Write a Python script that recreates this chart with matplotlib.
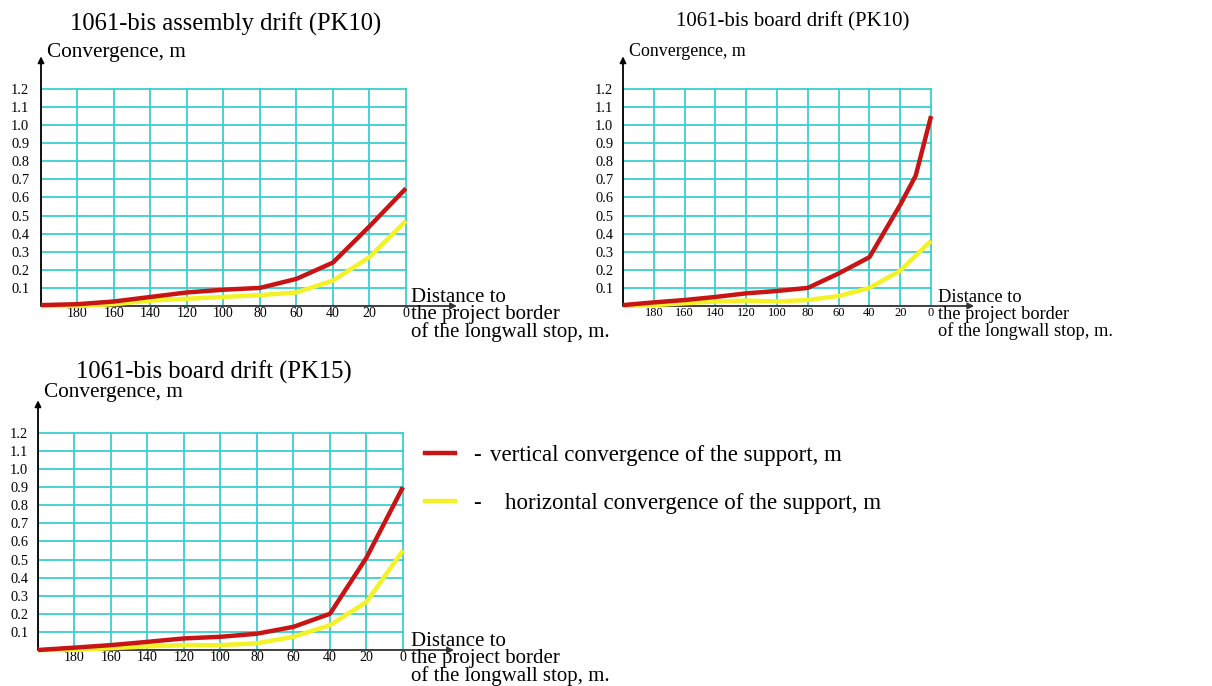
import matplotlib.pyplot as plt
import matplotlib as mpl
from matplotlib.lines import Line2D

mpl.rcParams['font.family'] = ['Liberation Serif', 'DejaVu Serif']

W, H = 1212, 686

# distance to the project border, m
dist = [200, 180, 160, 140, 120, 100, 80, 60, 40, 20, 0]
dist_pk10b = [200, 180, 160, 140, 120, 100, 80, 60, 40, 20, 10, 0]

# 1061-bis assembly drift (PK10)
asm_vert = [0.005, 0.01, 0.025, 0.05, 0.075, 0.09, 0.10, 0.15, 0.24, 0.44, 0.65]
asm_horiz = [0.0, 0.0, 0.01, 0.03, 0.04, 0.05, 0.06, 0.075, 0.14, 0.27, 0.47]
# 1061-bis board drift (PK10)
pk10_vert = [0.005, 0.02, 0.033, 0.05, 0.07, 0.083, 0.10, 0.18, 0.27, 0.56, 0.72, 1.05]
pk10_horiz = [0.0, 0.005, 0.015, 0.025, 0.03, 0.025, 0.033, 0.055, 0.10, 0.195, 0.36]
# 1061-bis board drift (PK15)
pk15_vert = [0.0, 0.013, 0.027, 0.045, 0.064, 0.073, 0.09, 0.128, 0.20, 0.51, 0.90]
pk15_horiz = [0.0, 0.0, 0.01, 0.02, 0.027, 0.027, 0.037, 0.073, 0.137, 0.265, 0.55]

titles = ['1061-bis assembly drift (PK10)', '1061-bis board drift (PK10)',
          '1061-bis board drift (PK15)']
x_ticks = [200, 180, 160, 140, 120, 100, 80, 60, 40, 20, 0]
x_labels = ['', '180', '160', '140', '120', '100', '80', '60', '40', '20', '0']
y_ticks = [0.0, 0.1, 0.2, 0.3, 0.4, 0.5, 0.6, 0.7, 0.8, 0.9, 1.0, 1.1, 1.2]
y_labels = [''] + ['%.1f' % v for v in y_ticks[1:]]
dist_lines = ['Distance to', 'the project border', 'of the longwall stop, m.']

RED = '#c81414'
YEL = '#f2f227'
CYAN = '#3ccfd0'


def px(x, y):
    return x / W, 1 - y / H


def panel(fig, box, xv, vert, xh, horiz, title, tpos, tsize, cpos, csize, dpos, dsize,
          dstep, xt_size, yt_pad):
    l, t, r, b = box
    ax = fig.add_axes([l / W, 1 - b / H, (r - l) / W, (b - t) / H])
    for s in ax.spines.values():
        s.set_visible(False)
    ax.set_xlim(200, -0.6)
    ax.set_ylim(0, 1.205)
    ax.set_xticks(x_ticks)
    ax.set_xticklabels(x_labels)
    ax.set_yticks(y_ticks)
    ax.set_yticklabels(y_labels)
    ax.tick_params(axis='x', length=0, pad=0.5, labelsize=xt_size)
    ax.tick_params(axis='y', length=0, pad=yt_pad, labelsize=10.4)
    ax.grid(True, color=CYAN, lw=1.3)
    ax.set_axisbelow(True)

    ax.plot(xh, horiz, color=YEL, lw=3.2, clip_on=False, zorder=3,
            solid_capstyle='butt')
    ax.plot(xv, vert, color=RED, lw=3.2, clip_on=False, zorder=4,
            solid_capstyle='butt')

    # axes with arrows
    ax.annotate('', xy=(200, 1.38), xytext=(200, 0), annotation_clip=False,
                arrowprops=dict(arrowstyle='-|>', color='black', lw=1.3,
                                mutation_scale=9, shrinkA=0, shrinkB=0), zorder=2)
    ax.annotate('', xy=(-28, 0), xytext=(200, 0), annotation_clip=False,
                arrowprops=dict(arrowstyle='-|>', color='#333333', lw=1.3,
                                mutation_scale=9, shrinkA=0, shrinkB=0), zorder=2)

    fig.text(*px(*tpos), title, fontsize=tsize, ha='center', va='center')
    fig.text(*px(*cpos), 'Convergence, m', fontsize=csize, ha='left', va='center')
    for i, line in enumerate(dist_lines):
        fig.text(*px(dpos[0], dpos[1] + i * dstep), line, fontsize=dsize,
                 ha='left', va='baseline')
    return ax


fig = plt.figure(figsize=(W / 100, H / 100), dpi=100)

panel(fig, (41, 88, 407, 306), dist, asm_vert, dist, asm_horiz, titles[0],
      (226, 24), 17.7, (47, 52), 15.3, (411, 302), 15.0, 17.5, 10, 8.5)
panel(fig, (623, 88, 932, 306), dist_pk10b, pk10_vert, dist, pk10_horiz, titles[1],
      (793, 22), 15.0, (629, 52), 12.9, (938, 302), 13.2, 17, 9, 7)
panel(fig, (38, 432, 404, 650), dist, pk15_vert, dist, pk15_horiz, titles[2],
      (214, 372), 17.7, (44, 393), 15.3, (411, 646), 15.0, 17.5, 10, 7)

# legend
fig.add_artist(Line2D([425 / W, 455 / W], [1 - 453 / H] * 2, color=RED, lw=3.2))
fig.add_artist(Line2D([425 / W, 455 / W], [1 - 501 / H] * 2, color=YEL, lw=3.2))
fig.text(*px(473, 456), '-', fontsize=16.5, ha='left', va='center')
fig.text(*px(490, 456), 'vertical convergence of the support, m', fontsize=16.5,
         ha='left', va='center')
fig.text(*px(473, 504), '-', fontsize=16.5, ha='left', va='center')
fig.text(*px(505, 504), 'horizontal convergence of the support, m', fontsize=16.5,
         ha='left', va='center')

fig.savefig('out.png', dpi=100)
